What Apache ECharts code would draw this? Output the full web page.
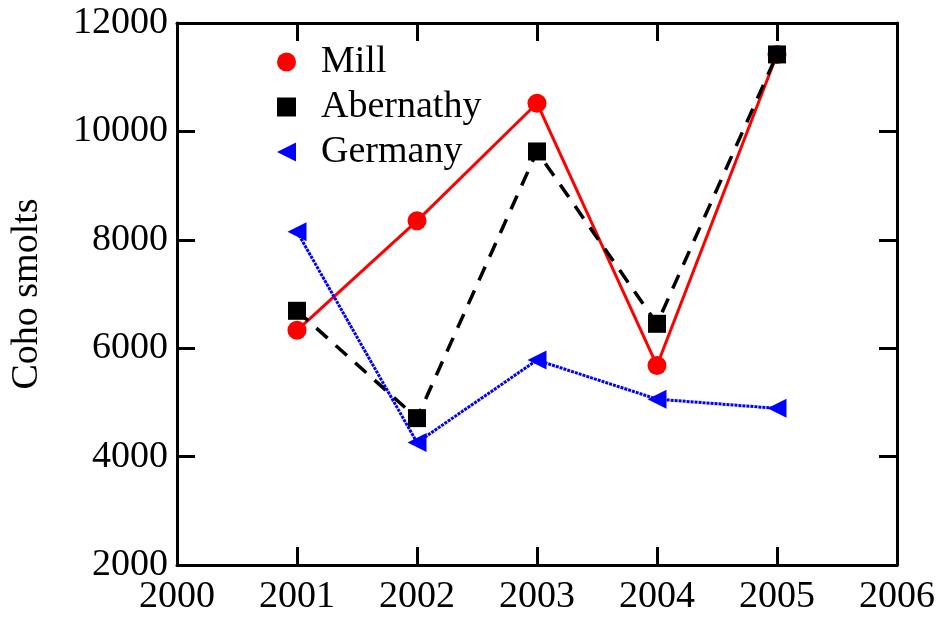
<!DOCTYPE html>
<html>
<head>
<meta charset="utf-8">
<script src="https://cdn.jsdelivr.net/npm/echarts@6/dist/echarts.min.js"></script>
<style>html,body{margin:0;padding:0;background:#fff}#c{width:939px;height:621px}</style>
</head>
<body>
<div id="c"></div>
<script>
const years = [2001, 2002, 2003, 2004, 2005];
const mill = [6330, 8350, 10520, 5680, 11420];
const abernathy = [6690, 4710, 9630, 6450, 11420];
const germany = [8150, 4260, 5780, 5060, 4890];
const seriesNames = ['Mill', 'Abernathy', 'Germany'];
const yTitle = 'Coho smolts';

const FONT = 'Liberation Serif';
const pair = (xs, ys) => xs.map((x, i) => [x, ys[i]]);
const triLeft = 'path://M0,5 L10,0 L10,10 Z';

const axisCommon = {
  axisLine: { show: true, onZero: false, lineStyle: { color: '#000', width: 3 } },
  axisTick: { show: true, inside: true, length: 18, lineStyle: { color: '#000', width: 3 } },
  splitLine: { show: false },
  minorTick: { show: false }
};

const chart = echarts.init(document.getElementById('c'), null, { renderer: 'canvas' });
chart.setOption({
  animation: false,
  backgroundColor: '#fff',
  grid: { left: 172, right: 42, top: 23, bottom: 56, containLabel: false },
  legend: {
    orient: 'vertical',
    left: 272,
    top: 38,
    itemWidth: 19,
    itemHeight: 19,
    itemGap: 7,
    textStyle: { fontFamily: FONT, fontSize: 38, color: '#000', padding: [0, 0, 0, 20] },
    data: [
      { name: seriesNames[0], icon: 'circle' },
      { name: seriesNames[1], icon: 'rect' },
      { name: seriesNames[2], icon: triLeft }
    ]
  },
  xAxis: [
    Object.assign({
      type: 'value', min: 2000, max: 2006, interval: 1, position: 'bottom',
      axisLabel: { fontFamily: FONT, fontSize: 38, color: '#000', margin: 13, formatter: v => String(v) }
    }, axisCommon),
    Object.assign({
      type: 'value', min: 2000, max: 2006, interval: 1, position: 'top',
      axisLabel: { show: false }
    }, axisCommon)
  ],
  yAxis: [
    Object.assign({
      type: 'value', min: 2000, max: 12000, interval: 2000, position: 'left',
      name: yTitle, nameLocation: 'middle', nameGap: 131,
      nameTextStyle: { fontFamily: FONT, fontSize: 38, color: '#000' },
      axisLabel: { fontFamily: FONT, fontSize: 38, color: '#000', margin: 9, formatter: v => String(v) }
    }, axisCommon),
    Object.assign({
      type: 'value', min: 2000, max: 12000, interval: 2000, position: 'right',
      axisLabel: { show: false }
    }, axisCommon)
  ],
  series: [
    {
      name: seriesNames[0], type: 'line', data: pair(years, mill),
      symbol: 'circle', symbolSize: 19,
      itemStyle: { color: '#ff0000' },
      lineStyle: { color: '#ff0000', width: 3 }
    },
    {
      name: seriesNames[1], type: 'line', data: pair(years, abernathy),
      symbol: 'rect', symbolSize: 18,
      itemStyle: { color: '#000' },
      lineStyle: { color: '#000', width: 3.5, type: [15, 11] }
    },
    {
      name: seriesNames[2], type: 'line', data: pair(years, germany),
      symbol: triLeft, symbolSize: 19,
      itemStyle: { color: '#0000ff' },
      lineStyle: { color: '#0000ff', width: 3, type: [3, 1] }
    }
  ]
});
</script>
</body>
</html>
